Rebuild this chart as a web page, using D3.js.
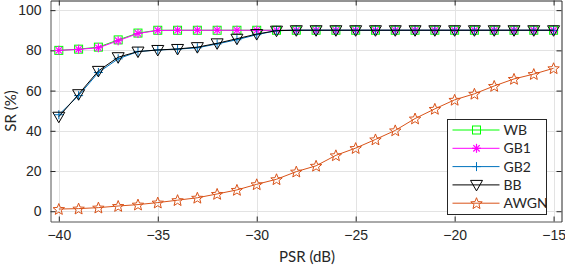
<!DOCTYPE html>
<html>
<head>
<meta charset="utf-8">
<script src="https://cdn.jsdelivr.net/npm/d3@7"></script>
<style>
    body { margin: 0; background: #fff; }
    svg { display: block; font-family: Lato, "Open Sans", sans-serif; }
    .grid line { stroke: #e3e3e3; stroke-width: 1; }
    .tick-label { font-size: 14px; fill: #262626; }
</style>
</head>
<body>
<svg id="chart" width="565" height="267"></svg>
<script>
// PSR values (dB)
const psr = d3.range(-40, -14, 1);

const wb   = [80, 80.6, 81.6, 85.2, 88.6, 90, 90, 90, 90, 90, 90, 90, 90, 90, 90, 90, 90, 90, 90, 90, 90, 90, 90, 90, 90, 90];
const gb1  = [80, 80.5, 81.3, 84.8, 88.4, 89.9, 90, 90, 90, 90, 90, 90, 90, 90, 90, 90, 90, 90, 90, 90, 90, 90, 90, 90, 90, 90];
const gb2  = [48, 57.5, 69, 75.8, 79.4, 80.2, 80.6, 81.3, 83.2, 85.3, 87.8, 89.8, 90, 90, 90, 90, 90, 90, 90, 90, 90, 90, 90, 90, 90, 90];
const bb   = [47, 58.2, 69.8, 76.6, 79.4, 80.2, 80.7, 81.6, 83.5, 85.8, 88.1, 89.8, 90, 90, 90, 90, 90, 90, 90, 90, 90, 90, 90, 90, 90, 90];
const awgn = [1.1, 1.3, 1.8, 2.6, 3.3, 4.3, 5.5, 6.7, 8.6, 10.6, 13.4, 15.9, 19.7, 22.6, 27.8, 31.4, 35.7, 40.2, 46.1, 50.9, 55.4, 58.4, 62.3, 65.8, 68.2, 71.1];

const seriesNames = ["WB", "GB1", "GB2", "BB", "AWGN"];
const seriesValues = [wb, gb1, gb2, bb, awgn];

const xTicks = [-40, -35, -30, -25, -20, -15];
const yTicks = [0, 20, 40, 60, 80, 100];

const styles = {
    WB:   { color: "#00ff00", marker: "square" },
    GB1:  { color: "#ff00ff", marker: "asterisk" },
    GB2:  { color: "#0072bd", marker: "plus" },
    BB:   { color: "#000000", marker: "triDown" },
    AWGN: { color: "#d95319", marker: "star" }
};

const svg = d3.select("#chart");
const plot = { left: 50.5, right: 561.5, top: 0.5, bottom: 221.5 };

const x = d3.scaleLinear().domain([-40.42, -14.6]).range([plot.left, plot.right]);
const y = d3.scaleLinear().domain([-5.1, 104.8]).range([plot.bottom, plot.top]);

// grid
const grid = svg.append("g").attr("class", "grid");
grid.selectAll(".gx").data(xTicks).enter().append("line")
    .attr("x1", d => Math.round(x(d)) + 0.5).attr("x2", d => Math.round(x(d)) + 0.5)
    .attr("y1", plot.top).attr("y2", plot.bottom);
grid.selectAll(".gy").data(yTicks).enter().append("line")
    .attr("y1", d => Math.round(y(d)) + 0.5).attr("y2", d => Math.round(y(d)) + 0.5)
    .attr("x1", plot.left).attr("x2", plot.right);

// axes, ticks inward on all four sides
const axisColor = "#262626";
const xAxis = d3.axisBottom(x).tickValues(xTicks).tickSize(-5).tickPadding(9).tickSizeOuter(0);
const yAxis = d3.axisLeft(y).tickValues(yTicks).tickSize(-5).tickPadding(9).tickSizeOuter(0);

const gx = svg.append("g").attr("transform", `translate(0,${plot.bottom})`).call(xAxis);
const gy = svg.append("g").attr("transform", `translate(${plot.left},0)`).call(yAxis);
const gxTop = svg.append("g").attr("transform", `translate(0,${plot.top})`)
    .call(d3.axisTop(x).tickValues(xTicks).tickSize(-5).tickFormat("").tickSizeOuter(0));
const gyRight = svg.append("g").attr("transform", `translate(${plot.right},0)`)
    .call(d3.axisRight(y).tickValues(yTicks).tickSize(-5).tickFormat("").tickSizeOuter(0));

[gx, gy, gxTop, gyRight].forEach(g => {
    g.select(".domain").attr("stroke", axisColor);
    g.selectAll(".tick line").attr("stroke", axisColor);
    g.selectAll(".tick text").attr("class", "tick-label").attr("font-family", null).attr("font-size", null);
});
gx.select(".domain").attr("stroke", "#555");
gy.select(".domain").attr("stroke", "#555");

// axis labels
svg.append("text")
    .attr("x", (plot.left + plot.right) / 2 + 1).attr("y", 262)
    .attr("text-anchor", "middle").attr("font-size", 15).attr("fill", axisColor)
    .text("PSR (dB)");
svg.append("text")
    .attr("transform", `translate(16,${(plot.top + plot.bottom) / 2}) rotate(-90)`)
    .attr("text-anchor", "middle").attr("font-size", 15).attr("fill", axisColor)
    .text("SR (%)");

// marker drawing
function drawMarker(g, type, color) {
    if (type === "square") {
        g.append("rect").attr("x", -4).attr("y", -4).attr("width", 8).attr("height", 8)
            .attr("fill", "none").attr("stroke", color).attr("stroke-width", 1);
    } else if (type === "asterisk") {
        const r = 4.5;
        [0, 45, 90, 135].forEach(a => {
            const rad = a * Math.PI / 180;
            g.append("line")
                .attr("x1", -r * Math.cos(rad)).attr("y1", -r * Math.sin(rad))
                .attr("x2", r * Math.cos(rad)).attr("y2", r * Math.sin(rad))
                .attr("stroke", color).attr("stroke-width", 1.2);
        });
    } else if (type === "plus") {
        g.append("path").attr("d", "M-4.5,0H4.5M0,-4.5V4.5")
            .attr("stroke", color).attr("stroke-width", 1);
    } else if (type === "triDown") {
        g.append("path").attr("d", "M-6,-4.5L6,-4.5L0,6Z")
            .attr("fill", "none").attr("stroke", color).attr("stroke-width", 1);
    } else if (type === "star") {
        const pts = d3.range(10).map(i => {
            const r = i % 2 === 0 ? 6 : 2.6;
            const a = -Math.PI / 2 + i * Math.PI / 5;
            return [r * Math.cos(a), r * Math.sin(a) + 0.5];
        });
        g.append("path").attr("d", "M" + pts.join("L") + "Z")
            .attr("fill", "none").attr("stroke", color).attr("stroke-width", 1);
    }
}

// series
const line = d3.line().x(d => x(d[0])).y(d => y(d[1]));

seriesNames.forEach((name, i) => {
    const st = styles[name];
    const pts = psr.map((p, j) => [p, seriesValues[i][j]]);
    const g = svg.append("g").attr("class", "series");
    g.append("path").datum(pts).attr("d", line)
        .attr("fill", "none").attr("stroke", st.color).attr("stroke-width", 1);
    g.selectAll(".mk").data(pts).enter().append("g")
        .attr("transform", d => `translate(${x(d[0])},${y(d[1])})`)
        .each(function () { drawMarker(d3.select(this), st.marker, st.color); });
});

// legend
const legend = svg.append("g").attr("transform", "translate(447.5,119.5)");
legend.append("rect").attr("width", 99).attr("height", 95)
    .attr("fill", "#fff").attr("stroke", axisColor).attr("stroke-width", 1);
seriesNames.forEach((name, i) => {
    const st = styles[name];
    const row = legend.append("g").attr("transform", `translate(0,${10.5 + i * 18.3})`);
    row.append("line").attr("x1", 5).attr("x2", 52).attr("stroke", st.color).attr("stroke-width", 1);
    drawMarker(row.append("g").attr("transform", "translate(29,0)"), st.marker, st.color);
    row.append("text").attr("x", 56).attr("y", 5).attr("font-size", 14).attr("fill", axisColor).text(name);
});
</script>
</body>
</html>
